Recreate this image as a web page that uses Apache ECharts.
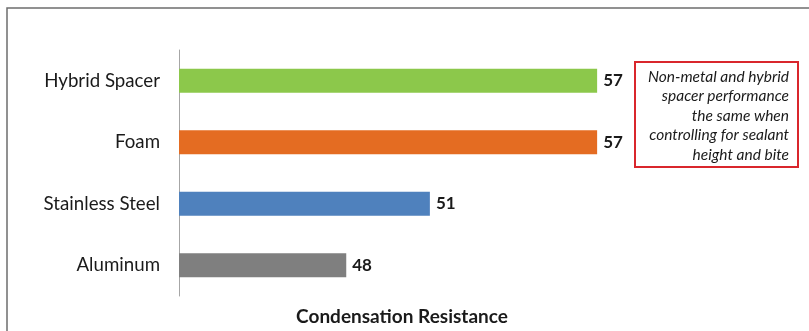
<!DOCTYPE html>
<html>
<head>
<meta charset="utf-8">
<script src="https://cdn.jsdelivr.net/npm/echarts@6/dist/echarts.min.js"></script>
<style>
  html, body { margin: 0; padding: 0; background: #fff; }
  #chart { width: 809px; height: 331px; }
</style>
</head>
<body>
<div id="chart"></div>
<script>
const categories = ['Aluminum', 'Stainless Steel', 'Foam', 'Hybrid Spacer']
const values = [48, 51, 57, 57]
const barColors = ['#7f7f7f', '#4f81bd', '#e46c22', '#8cc84b']
const noteLines = [
  'Non-metal and hybrid',
  'spacer performance',
  'the same when',
  'controlling for sealant',
  'height and bite'
]

const font = 'Lato'
const chart = echarts.init(document.getElementById('chart'))

chart.setOption({
  animation: false,
  grid: { left: 179, right: 184, top: 50, bottom: 33 },
  xAxis: {
    type: 'value',
    min: 42,
    max: 58,
    name: 'Condensation Resistance',
    nameLocation: 'middle',
    nameGap: 11,
    nameTextStyle: { fontFamily: font, fontSize: 19, fontWeight: 'bold', color: '#1a1a1a' },
    axisLine: { show: false },
    axisTick: { show: false },
    axisLabel: { show: false },
    splitLine: { show: false }
  },
  yAxis: {
    type: 'category',
    data: categories,
    axisLine: { show: true, lineStyle: { color: '#a6a6a6', width: 1 } },
    axisTick: { show: false },
    axisLabel: { fontFamily: font, fontSize: 18.7, color: '#1a1a1a', margin: 19 }
  },
  series: [
    {
      type: 'bar',
      barWidth: 24,
      data: values.map((v, i) => ({ value: v, itemStyle: { color: barColors[i] } })),
      label: {
        show: true,
        position: 'right',
        distance: 6,
        fontFamily: font,
        fontSize: 17,
        fontWeight: 'bold',
        color: '#1a1a1a'
      }
    }
  ],
  graphic: [
    {
      type: 'rect',
      shape: { x: 7, y: 8, width: 900, height: 400 },
      style: { fill: 'none', stroke: '#6e6e6e', lineWidth: 1.5 },
      silent: true
    },
    {
      type: 'rect',
      shape: { x: 635, y: 62, width: 163, height: 105 },
      style: { fill: '#fff', stroke: '#d9262c', lineWidth: 2 }
    },
    {
      type: 'text',
      x: 789,
      y: 67,
      style: {
        text: noteLines.join('\n'),
        textAlign: 'right',
        fontFamily: font,
        fontStyle: 'italic',
        fontSize: 15.5,
        lineHeight: 19.5,
        fill: '#1a1a1a'
      }
    }
  ]
})
</script>
</body>
</html>
